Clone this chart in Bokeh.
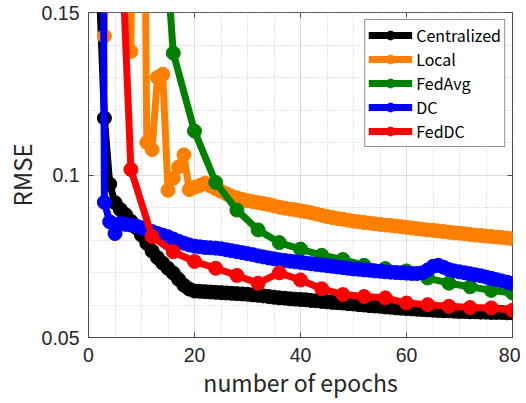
from bokeh.plotting import figure
from bokeh.models import LinearAxis, FixedTicker, CustomJSTickFormatter
from bokeh.embed import file_html
from bokeh.resources import INLINE

# ---------------- data ----------------
x_ticks = [0, 20, 40, 60, 80]
y_ticks = [0.05, 0.1, 0.15]
y_tick_labels = ["0.05", "0.1", "0.15"]

central_epochs = list(range(1, 81))
centralized = [1.0, 0.160, 0.1175, 0.0972, 0.0915, 0.0894, 0.0878, 0.0858, 0.0838, 0.0815,
               0.0790, 0.0766, 0.0746, 0.0729, 0.0713, 0.0698, 0.0679, 0.0661, 0.0649, 0.0643,
               0.0642, 0.0641, 0.0640, 0.0639, 0.0638, 0.0637, 0.0636, 0.0635, 0.0634, 0.0633,
               0.0631, 0.0630, 0.0628, 0.0626, 0.0624, 0.0622, 0.0621, 0.0619, 0.0618, 0.0617,
               0.0616, 0.0614, 0.0613, 0.0611, 0.0610, 0.0608, 0.0607, 0.0606, 0.0604, 0.0603,
               0.0601, 0.0600, 0.0598, 0.0597, 0.0596, 0.0594, 0.0593, 0.0591, 0.0590, 0.0589,
               0.0588, 0.0587, 0.0586, 0.0585, 0.0584, 0.0583, 0.0582, 0.0582, 0.0581, 0.0580,
               0.0580, 0.0579, 0.0579, 0.0578, 0.0578, 0.0577, 0.0577, 0.0577, 0.0576, 0.0576]

local_epochs = list(range(3, 81))
local = [0.1427, 0.40, 0.38, 0.35, 0.33, 0.1380, 0.32, 0.30, 0.1100, 0.1078,
         0.1300, 0.1310, 0.0953, 0.0990, 0.1025, 0.1062, 0.0955, 0.0962, 0.0968, 0.0975,
         0.0966, 0.0958, 0.0950, 0.0942, 0.0935, 0.0930, 0.0925, 0.0921, 0.0918, 0.0915,
         0.0912, 0.0909, 0.0905, 0.0901, 0.0898, 0.0895, 0.0893, 0.0890, 0.0887, 0.0884,
         0.0880, 0.0876, 0.0872, 0.0869, 0.0866, 0.0864, 0.0861, 0.0858, 0.0856, 0.0854,
         0.0852, 0.0850, 0.0848, 0.0846, 0.0845, 0.0843, 0.0841, 0.0839, 0.0837, 0.0835,
         0.0833, 0.0831, 0.0830, 0.0828, 0.0826, 0.0824, 0.0822, 0.0821, 0.0819, 0.0817,
         0.0815, 0.0814, 0.0812, 0.0811, 0.0809, 0.0808, 0.0806, 0.0804]

fed_epochs = list(range(4, 81, 4))
fedavg = [0.60, 0.40, 0.229, 0.1375, 0.1135, 0.0977, 0.0892, 0.0831, 0.0792, 0.0772,
          0.0753, 0.0740, 0.0722, 0.0712, 0.0705, 0.0683, 0.0667, 0.0656, 0.0645, 0.0637]

dc_epochs = list(range(2, 81))
dc = [0.50, 0.0916, 0.0856, 0.0820, 0.0852, 0.0848, 0.0846, 0.0843, 0.0838,
      0.0832, 0.0826, 0.0820, 0.0815, 0.0810, 0.0803, 0.0796, 0.0790, 0.0785, 0.0781,
      0.0779, 0.0777, 0.0776, 0.0775, 0.0773, 0.0770, 0.0767, 0.0764, 0.0761, 0.0758,
      0.0755, 0.0751, 0.0748, 0.0745, 0.0742, 0.0739, 0.0737, 0.0735, 0.0733, 0.0731,
      0.0729, 0.0727, 0.0725, 0.0723, 0.0721, 0.0719, 0.0717, 0.0715, 0.0713, 0.0711,
      0.0710, 0.0708, 0.0707, 0.0705, 0.0704, 0.0702, 0.0701, 0.0700, 0.0699, 0.0698,
      0.0697, 0.0697, 0.0699, 0.0708, 0.0719, 0.0722, 0.0716, 0.0709, 0.0705, 0.0702,
      0.0699, 0.0696, 0.0693, 0.0690, 0.0686, 0.0682, 0.0678, 0.0674, 0.0670, 0.0666]

feddc = [0.26, 0.1017, 0.0810, 0.0764, 0.0734, 0.0713, 0.0691, 0.0667, 0.0699, 0.0677,
         0.0650, 0.0632, 0.0626, 0.0622, 0.0606, 0.0601, 0.0596, 0.0592, 0.0591, 0.0584]

series = [
    ("Centralized", central_epochs, centralized, "#000000"),
    ("Local", local_epochs, local, "#ff8000"),
    ("FedAvg", fed_epochs, fedavg, "#008000"),
    ("DC", dc_epochs, dc, "#0000ff"),
    ("FedDC", fed_epochs, feddc, "#ff0000"),
]

FONT = "Noto Sans CJK JP"
TICKFONT = "Liberation Sans"
TXT = "#262626"
AXC = "#4d4d4d"

p = figure(width=520, height=403, x_range=(0, 80), y_range=(0.05, 0.15),
           output_backend="svg", toolbar_location=None,
           min_border_left=87, min_border_right=8, min_border_top=12, min_border_bottom=66)

p.background_fill_color = "white"
p.border_fill_color = "white"
p.outline_line_color = AXC
p.outline_line_width = 1

for name, xs, ys, col in series:
    p.line(xs, ys, line_color=col, line_width=7, legend_label=name)
    p.scatter(xs, ys, marker="circle", size=14, fill_color=col, line_color=col,
              legend_label=name)

xt = FixedTicker(ticks=x_ticks, minor_ticks=list(range(0, 81, 5)))
yt = FixedTicker(ticks=y_ticks, minor_ticks=[0.05 + 0.01 * i for i in range(11)])

p.xaxis.ticker = xt
p.yaxis.ticker = yt
p.yaxis.major_label_overrides = dict(zip(y_ticks, y_tick_labels))

for ax in (p.xaxis, p.yaxis):
    ax.major_tick_in = 5
    ax.major_tick_out = 0
    ax.minor_tick_in = 0
    ax.minor_tick_out = 0
    ax.axis_line_color = AXC
    ax.major_tick_line_color = AXC
    ax.major_label_text_font = TICKFONT
    ax.major_label_text_font_size = "19.5px"
    ax.major_label_text_color = TXT
    ax.axis_label_text_font = FONT
    ax.axis_label_text_font_style = "normal"
    ax.axis_label_text_color = TXT

p.xaxis.axis_label = "number of epochs"
p.yaxis.axis_label = "RMSE"
p.xaxis.axis_label_text_font_size = "23px"
p.yaxis.axis_label_text_font_size = "24px"
p.xaxis.major_label_standoff = 10
p.yaxis.major_label_standoff = 9
p.xaxis.axis_label_standoff = 0
p.yaxis.axis_label_standoff = 0

# ticks on top and right (box style)
for loc in ("above", "right"):
    ax = LinearAxis(ticker=FixedTicker(ticks=x_ticks if loc == "above" else y_ticks),
                    formatter=CustomJSTickFormatter(code="return ''"))
    ax.major_tick_in = 5
    ax.major_tick_out = 0
    ax.minor_tick_in = 0
    ax.minor_tick_out = 0
    ax.major_label_standoff = 0
    ax.axis_line_color = None
    ax.major_tick_line_color = AXC
    p.add_layout(ax, loc)

# grids
p.xgrid.ticker = xt
p.ygrid.ticker = yt
for g in (p.xgrid, p.ygrid):
    g.grid_line_color = "#dcdcdc"
    g.grid_line_width = 1
    g.minor_grid_line_color = "#c8c8c8"
    g.minor_grid_line_dash = "1 2"
    g.minor_grid_line_width = 1

lg = p.legend[0]
lg.location = "top_right"
lg.margin = 7
lg.padding = 3
lg.spacing = 0
lg.glyph_width = 44
lg.glyph_height = 22
lg.label_height = 22
lg.label_standoff = 4
lg.label_text_font = FONT
lg.label_text_font_size = "16px"
lg.label_text_color = "#000000"
lg.border_line_color = "#262626"
lg.border_line_width = 1
lg.background_fill_color = "white"
lg.background_fill_alpha = 1.0

open("out.html", "w").write(file_html(p, INLINE))
